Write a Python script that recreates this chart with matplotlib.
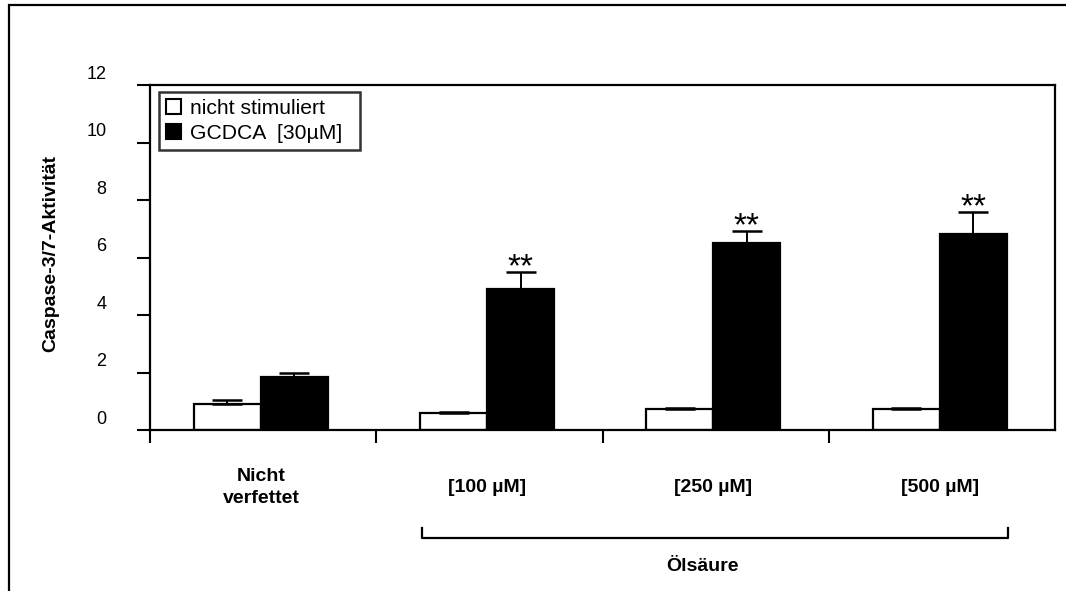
import matplotlib
matplotlib.use("Agg")
import matplotlib.pyplot as plt
import matplotlib.transforms as mtransforms
from matplotlib.patches import Patch, Rectangle
from matplotlib.lines import Line2D
import numpy as np

# ---- data ----
categories = ["Nicht\nverfettet", "[100 µM]", "[250 µM]", "[500 µM]"]
series_names = ["nicht stimuliert", "GCDCA  [30µM]"]
nicht_stimuliert = [0.91, 0.59, 0.74, 0.74]
nicht_stimuliert_err = [0.14, 0.03, 0.03, 0.03]
gcdca = [1.86, 4.91, 6.50, 6.83]
gcdca_err = [0.14, 0.60, 0.43, 0.75]
significance = ["", "**", "**", "**"]
y_ticks = [0, 2, 4, 6, 8, 10, 12]
group_label = "Ölsäure"
y_label = "Caspase-3/7-Aktivität"

plt.rcParams['font.family'] = ['Liberation Sans', 'DejaVu Sans']
narrow = ['Liberation Sans Narrow', 'Liberation Sans', 'DejaVu Sans']

W, H = 1066, 591
fig = plt.figure(figsize=(W / 100, H / 100), dpi=100)
fig.patch.set_facecolor('white')

# outer frame (left and top edges visible)
fig.add_artist(Rectangle((9 / W, -0.5), 2.0, 0.5 + (1 - 5 / H), transform=fig.transFigure,
                         fill=False, edgecolor='black', linewidth=1.6))

ax = fig.add_axes([150 / W, 1 - 430.3 / H, (1055 - 150) / W, (430.3 - 85) / H])

n = len(categories)
idx = np.arange(n)
centers = idx + 0.49
bw = 0.296
x_white = centers - bw / 2
x_black = centers + bw / 2

ax.bar(x_white, nicht_stimuliert, width=bw, color='white', edgecolor='black', linewidth=1.6, zorder=2)
ax.bar(x_black, gcdca, width=bw, color='black', edgecolor='black', linewidth=1.6, zorder=2)

ax.errorbar(x_white, nicht_stimuliert, yerr=[np.zeros(n), nicht_stimuliert_err], fmt='none',
            ecolor='black', elinewidth=1.4, capsize=11, capthick=1.8, zorder=3)
ax.errorbar(x_black, gcdca, yerr=[np.zeros(n), gcdca_err], fmt='none',
            ecolor='black', elinewidth=1.4, capsize=11, capthick=1.8, zorder=3)

for xb, v, e, s in zip(x_black, gcdca, gcdca_err, significance):
    if s:
        ax.annotate(s, (xb, v + e), xytext=(0, -3), textcoords='offset points',
                    ha='center', va='baseline', fontsize=24, family=['Liberation Sans'])

ax.set_xlim(0, n)
ax.set_ylim(0, 12)
ax.set_xticks(idx)
ax.set_xticklabels([])
ax.set_yticks(y_ticks)
ax.set_yticklabels([str(t) for t in y_ticks])
ax.tick_params(axis='both', direction='out', length=9.4, width=1.5, color='black')
ax.tick_params(axis='y', pad=22, labelsize=13)
for sp in ax.spines.values():
    sp.set_linewidth(1.6)
    sp.set_color('black')

# tick labels drawn above their ticks as in the reference
offset = mtransforms.ScaledTranslation(0, 13 / 100, fig.dpi_scale_trans)
for lab in ax.get_yticklabels():
    lab.set_transform(lab.get_transform() + offset)

ax.set_ylabel(y_label, fontsize=14, fontweight='bold')
ax.yaxis.set_label_coords(-0.1006, 0.513)

# category labels
xt = ax.get_xaxis_transform()
for c, lab in zip(centers, categories):
    ax.text(c, -0.165, lab, transform=xt, ha='center', va='center', fontsize=14,
            fontweight='bold', family=narrow, linespacing=1.4, clip_on=False)

# bracket for Ölsäure group
bx0, bx1 = 1.2, 3.792
ax.add_line(Line2D([bx0, bx0, bx1, bx1], [-0.283, -0.312, -0.312, -0.283], transform=xt,
                   color='black', linewidth=1.6, clip_on=False))
ax.text(2.44, -0.395, group_label, transform=xt, ha='center', va='center', fontsize=14,
        fontweight='bold', family=narrow, clip_on=False)

handles = [Patch(facecolor='white', edgecolor='black', linewidth=1.5),
           Patch(facecolor='black', edgecolor='black', linewidth=1.5)]
leg = ax.legend(handles, series_names, loc='upper left',
                bbox_to_anchor=(0.01, 0.5, 201 / 905, 0.48), mode='expand',
                borderaxespad=0, fontsize=15.2, frameon=True, fancybox=False,
                handlelength=0.7, handleheight=0.7, handletextpad=0.45,
                borderpad=0.32, labelspacing=0.3)
leg.get_frame().set_edgecolor('black')
leg.get_frame().set_linewidth(1.8)

fig.savefig('out.png', dpi=100, facecolor='white')
